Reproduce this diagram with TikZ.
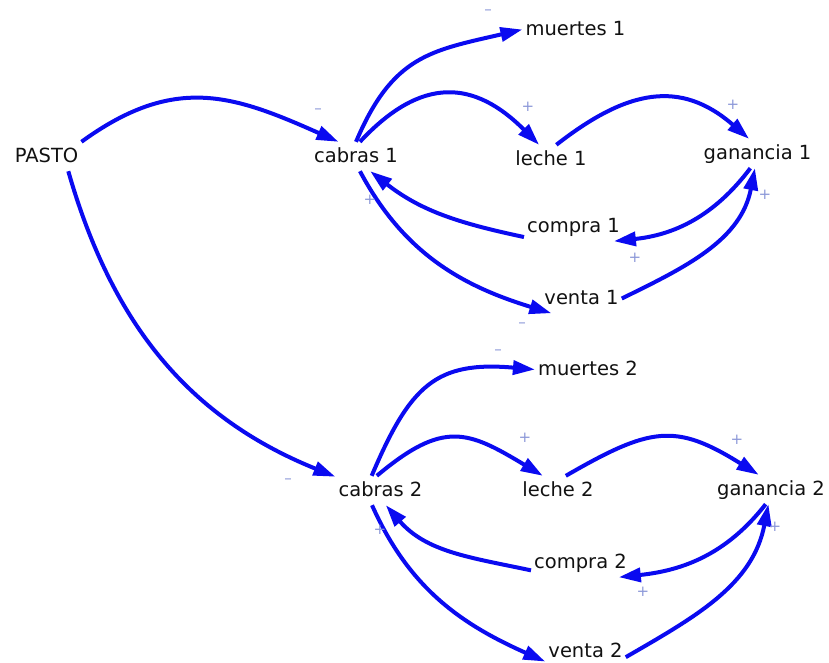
\documentclass[tikz,border=0pt]{standalone}
\usepackage{fontspec}
\setmainfont{DejaVu Sans}
\usetikzlibrary{arrows.meta}
\definecolor{cLink}{HTML}{0A0AF0}
\definecolor{cSign}{HTML}{8C98D8}
\definecolor{cInk}{HTML}{111111}

\begin{document}
\begin{tikzpicture}[x=1pt, y=1pt,
  >={Triangle[length=22pt, width=14pt]},
  v/.style={anchor=base, inner xsep=3pt, inner ysep=5pt, text height=15pt,
            text depth=4pt, text=cInk, font=\fontsize{19.5}{23}\selectfont},
  fl/.style={->, draw=cLink, line width=4pt},
  sg/.style={text=cSign, inner sep=0pt, font=\fontsize{15}{15}\selectfont}]

\useasboundingbox (0,0) rectangle (829,-662);

% ================= variables =================
\node[v] (pasto) at (46.5,-162) {PASTO};
\node[v] (cab1) at (356,-162) {cabras 1};
\node[v] (mu1) at (575.5,-35) {muertes 1};
\node[v] (le1) at (551,-165) {leche 1};
\node[v] (gan1) at (757.5,-159) {ganancia 1};
\node[v] (co1) at (573.5,-232) {compra 1};
\node[v] (ve1) at (581.5,-304) {venta 1};
\node[v] (mu2) at (588,-375) {muertes 2};
\node[v] (cab2) at (380.5,-496) {cabras 2};
\node[v] (le2) at (558,-496) {leche 2};
\node[v] (gan2) at (771,-495) {ganancia 2};
\node[v] (co2) at (580.5,-568) {compra 2};
\node[v] (ve2) at (585.5,-657) {venta 2};

% ================= links, herd 1 =================
\draw[fl] (pasto.north east) to[out=36, in=156, looseness=1.15] (cab1.140);
\draw[fl] (cab1.north) to[out=67, in=193, looseness=1.2] (mu1.west);
\draw[fl] (cab1.75) to[out=47, in=135, looseness=1.3] (le1.129);
\draw[fl] (le1.70) to[out=38, in=139, looseness=1.2] (gan1.120);
\draw[fl] (gan1.-116) to[out=-127, in=6] (co1.-20);
\draw[fl] (ve1.east) to[out=26, in=-101] (gan1.-100);
\draw[fl] (co1.192) to[out=168, in=-38] (cab1.-46);
\draw[fl] (cab1.-75) to[out=-62, in=163] (ve1.206);

% ================= links, herd 2 =================
\draw[fl] (pasto.-34) to[out=-74, in=158] (cab2.163);
\draw[fl] (cab2.121) to[out=67, in=175, looseness=1.3] (mu2.west);
\draw[fl] (cab2.104) to[out=40, in=149, looseness=1.35] (le2.136);
\draw[fl] (le2.62) to[out=30, in=148, looseness=1.3] (gan2.130);
\draw[fl] (gan2.-110) to[out=-128, in=6] (co2.-21);
\draw[fl] (ve2.-8) to[out=30, in=-101] (gan2.-100);
\draw[fl] (co2.189) to[out=168, in=-49] (cab2.-70);
\draw[fl] (cab2.-120) to[out=-66, in=156] (ve2.194);

% ---- polarity signs ----
\node[sg] (sg1) at (318,-111) {--};
\node[sg] (sg2) at (288,-481) {--};
\node[sg] (sg3) at (488,-12) {--};
\node[sg] (sg4) at (528,-107) {+};
\node[sg] (sg5) at (733,-105) {+};
\node[sg] (sg6) at (635,-258) {+};
\node[sg] (sg7) at (765,-195) {+};
\node[sg] (sg8) at (370,-200) {+};
\node[sg] (sg9) at (522,-325) {--};
\node[sg] (sg10) at (498,-352) {--};
\node[sg] (sg11) at (525,-438) {+};
\node[sg] (sg12) at (737,-440) {+};
\node[sg] (sg13) at (643,-592) {+};
\node[sg] (sg14) at (775,-527) {+};
\node[sg] (sg15) at (380,-530) {+};
\end{tikzpicture}
\end{document}
